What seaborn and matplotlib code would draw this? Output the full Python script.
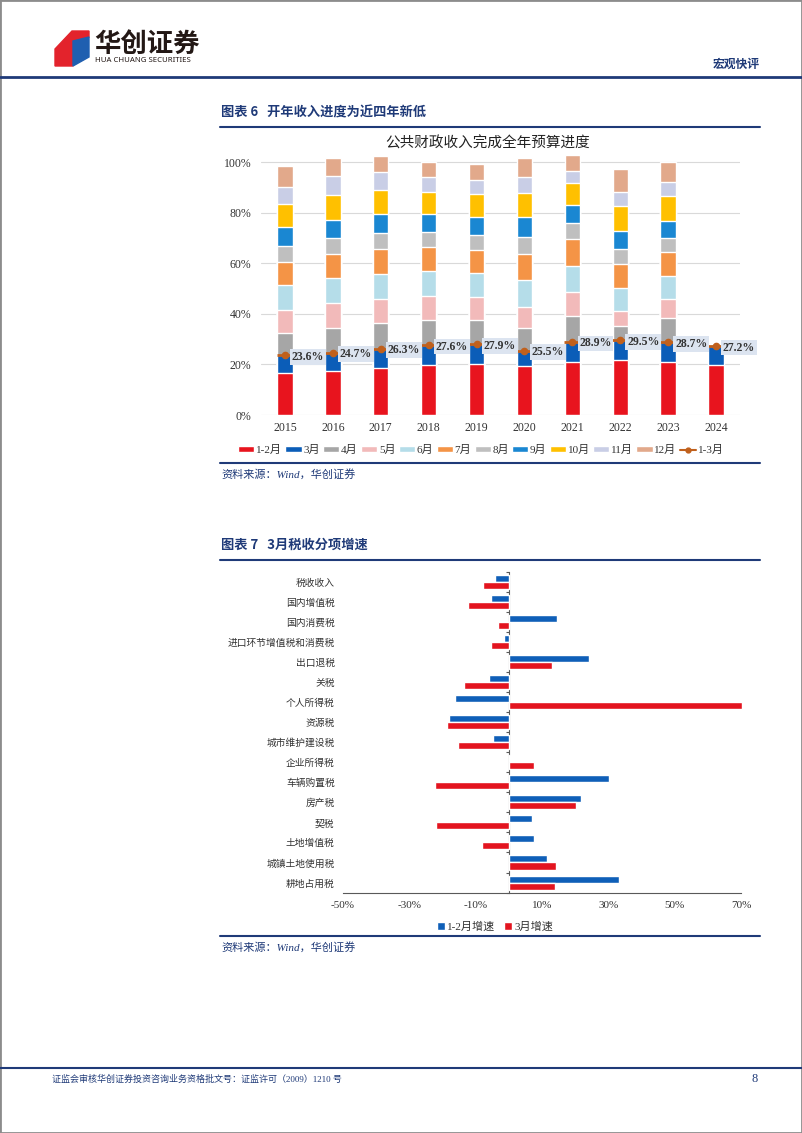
import numpy as np
import pandas as pd
import matplotlib
matplotlib.use("Agg")
import matplotlib.pyplot as plt
from matplotlib.lines import Line2D
from matplotlib.patches import Rectangle, Polygon
import seaborn as sns

# ====== Data: 图表6 公共财政收入完成全年预算进度 (%) ======
years = ["2015", "2016", "2017", "2018", "2019", "2020", "2021", "2022", "2023", "2024"]
months = ["1-2月", "3月", "4月", "5月", "6月", "7月", "8月", "9月", "10月", "11月", "12月"]
nan = np.nan
jan_feb = [16.5, 17.4, 18.7, 19.8, 20.3, 19.5, 21.1, 21.8, 21.1, 19.8]
mar = [7.1, 7.3, 7.6, 7.8, 7.6, 6.0, 7.8, 7.7, 7.6, 7.4]
apr = [8.7, 9.9, 10.0, 10.0, 9.7, 9.1, 10.4, 5.9, 9.6, nan]
may = [9.3, 9.6, 9.5, 9.6, 9.0, 8.3, 9.5, 5.8, 7.5, nan]
jun = [9.9, 10.2, 10.0, 9.8, 9.5, 10.4, 10.3, 9.0, 9.2, nan]
jul = [9.2, 9.4, 9.9, 9.4, 9.2, 10.3, 10.6, 9.5, 9.4, nan]
aug = [6.2, 6.2, 6.3, 6.1, 5.9, 6.8, 6.2, 6.0, 5.6, nan]
sep = [7.3, 7.2, 7.5, 7.1, 7.1, 7.9, 7.3, 7.3, 6.8, nan]
octo = [9.4, 9.8, 9.6, 8.7, 9.1, 9.7, 8.8, 9.8, 9.7, nan]
nov = [6.8, 7.4, 6.9, 5.8, 5.7, 6.0, 4.7, 5.6, 5.7, nan]
dec = [8.3, 7.3, 6.6, 6.2, 6.2, 7.7, 6.3, 8.9, 7.9, nan]
q1 = [23.6, 24.7, 26.3, 27.6, 27.9, 25.5, 28.9, 29.5, 28.7, 27.2]
yticks1 = [0, 20, 40, 60, 80, 100]

# ====== Data: 图表7 3月税收分项增速 (%) ======
taxes = ["税收收入", "国内增值税", "国内消费税", "进口环节增值税和消费税", "出口退税", "关税",
         "个人所得税", "资源税", "城市维护建设税", "企业所得税", "车辆购置税", "房产税",
         "契税", "土地增值税", "城镇土地使用税", "耕地占用税"]
g_janfeb = [-4.2, -5.4, 14.4, -1.4, 24.3, -6.1, -16.1, -17.9, -4.9, 0.4, 30.3, 21.9, 7.0, 7.5, 11.6, 33.1]
g_mar = [-7.7, -12.3, -3.3, -5.5, 12.9, -13.4, 70.4, -18.5, -15.4, 7.7, -22.3, 20.4, -22.1, -8.2, 14.2, 13.8]
series2 = ["1-2月增速", "3月增速"]
xticks2 = [-50, -30, -10, 10, 30, 50, 70]

# ====== Style ======
sns.set_style("white")
plt.rcParams["font.family"] = ["Liberation Serif", "Noto Sans CJK SC"]
CJK = ["Noto Sans CJK SC", "DejaVu Sans"]
NAVY = "#1F3A78"
W, H = 802, 1133

month_colors = ["#E8141E", "#0B5DB8", "#A6A6A6", "#F2BABA", "#B5DDE9", "#F49446",
                "#BFBFBF", "#1A87D2", "#FFC000", "#C9CEE6", "#E2A98B"]
line_color = "#C0601C"


def fx(x):
    return x / W


def fy(y):
    return 1 - y / H


def hline(fig, y, x0, x1, color=NAVY, lw=1.5):
    fig.add_artist(Line2D([fx(x0), fx(x1)], [fy(y), fy(y)], transform=fig.transFigure,
                          color=color, lw=lw))


fig = plt.figure(figsize=(W / 100, H / 100), dpi=100)

# ====== Page decoration ======
fig.add_artist(Rectangle((0, 0), 1, 1, transform=fig.transFigure, fill=False,
                         edgecolor="#8C8C8C", lw=2))
red_logo = [(55, 49), (72, 31), (89, 31), (89, 37), (73, 41), (73, 66), (55, 66)]
blue_logo = [(73, 41), (89, 37), (89, 57), (73, 66)]
fig.add_artist(Polygon([(fx(a), fy(b)) for a, b in red_logo], closed=True,
                       transform=fig.transFigure, color="#E3232C"))
fig.add_artist(Polygon([(fx(a), fy(b)) for a, b in blue_logo], closed=True,
                       transform=fig.transFigure, color="#1F5FB0"))
fig.text(fx(94), fy(44), "华创证券", family=CJK, fontsize=19, fontweight="bold",
         color="#231815", ha="left", va="center")
fig.text(fx(95), fy(61), "HUA CHUANG SECURITIES", family=["Noto Sans", "DejaVu Sans"],
         fontsize=5.6, fontweight="bold", color="#231815", ha="left", va="center")
fig.text(fx(760), fy(64), "宏观快评", family=CJK, fontsize=8.5, fontweight="bold",
         color=NAVY, ha="right", va="center")
hline(fig, 77, 0, W, lw=2)

fig.text(fx(221), fy(112), "图表 6   开年收入进度为近四年新低", family=CJK, fontsize=9.5,
         fontweight="bold", color=NAVY, ha="left", va="center")
hline(fig, 127, 220, 760)
hline(fig, 463, 220, 760)
fig.text(fx(221), fy(474), "资料来源：Wind，华创证券", fontsize=8, style="italic",
         color=NAVY, ha="left", va="center")

fig.text(fx(221), fy(545), "图表 7   3月税收分项增速", family=CJK, fontsize=9.5,
         fontweight="bold", color=NAVY, ha="left", va="center")
hline(fig, 560, 220, 760)
hline(fig, 936, 220, 760)
fig.text(fx(221), fy(947), "资料来源：Wind，华创证券", fontsize=8, style="italic",
         color=NAVY, ha="left", va="center")

hline(fig, 1068, 0, W, lw=1.5)
fig.text(fx(52), fy(1079), "证监会审核华创证券投资咨询业务资格批文号：证监许可（2009）1210 号",
         fontsize=6.5, color=NAVY, ha="left", va="center")
fig.text(fx(758), fy(1079), "8", fontsize=9, color=NAVY, ha="right", va="center")

# ====== Chart 1: stacked progress bars ======
ymax1 = 106
ax1 = fig.add_axes([fx(261), fy(415), (740 - 261) / W, 2.527 * ymax1 / H])
stack = np.cumsum(np.array([jan_feb, mar, apr, may, jun, jul, aug, sep, octo, nov, dec]), axis=0)
for i in range(len(months) - 1, -1, -1):
    sns.barplot(x=years, y=stack[i], order=years, color=month_colors[i], width=0.32,
                saturation=1, errorbar=None, label=months[i], ax=ax1)

xs = np.arange(len(years))
ax1.plot(xs, q1, ls="none", marker="_", ms=11, mew=2, color=line_color, zorder=4)
ax1.plot(xs, q1, ls="none", marker="o", ms=4.5, color=line_color, zorder=5)
for i, v in enumerate(q1):
    ax1.annotate(f"{v:.1f}%", (i, v), xytext=(5, -1), textcoords="offset points",
                 ha="left", va="center", fontsize=8.5, fontweight="bold", color="#333333",
                 bbox=dict(boxstyle="square,pad=0.15", fc="#DCE4F0", ec="none"), zorder=6)

ax1.set_ylim(0, ymax1)
ax1.set_xlim(-0.5, len(years) - 0.5)
ax1.set_yticks(yticks1)
ax1.set_yticklabels([f"{t}%" for t in yticks1])
ax1.yaxis.grid(True, color="#D9D9D9", lw=0.8)
ax1.set_axisbelow(True)
for s in ax1.spines.values():
    s.set_visible(False)
ax1.tick_params(axis="both", length=0, labelsize=8.5, colors="#333333")
ax1.tick_params(axis="y", pad=7)
ax1.tick_params(axis="x", pad=5)
ax1.set_xlabel("")
ax1.set_ylabel("")
ax1.set_title("")
fig.text(fx(488), fy(144), "公共财政收入完成全年预算进度", family=CJK, fontsize=10.5,
         color="#222222", ha="center", va="center")

handles, labels = ax1.get_legend_handles_labels()
handles, labels = handles[::-1], labels[::-1]
handles.append(Line2D([], [], color=line_color, lw=1.5, marker="o", ms=3.5))
labels.append("1-3月")
if ax1.get_legend() is not None:
    ax1.get_legend().remove()
fig.legend(handles, labels, loc="center", bbox_to_anchor=(fx(481), fy(450)), ncol=12,
           frameon=False, fontsize=8, handlelength=1.45, handleheight=0.45,
           handletextpad=0.15, columnspacing=0.3, labelcolor="#333333")

# ====== Chart 2: tax item growth ======
df2 = pd.DataFrame({
    "tax": taxes * 2,
    "growth": g_janfeb + g_mar,
    "series": [series2[0]] * len(taxes) + [series2[1]] * len(taxes),
})
ax2 = fig.add_axes([fx(343), fy(892.6), (741 - 343) / W, 321.1 / H])
sns.barplot(data=df2, y="tax", x="growth", hue="series", hue_order=series2, order=taxes,
            palette=["#0F5FB8", "#E3141F"], width=0.7, saturation=1, orient="h",
            errorbar=None, ax=ax2)
for p in ax2.patches:
    p.set_clip_on(False)
ax2.set_xlim(xticks2[0], xticks2[-1])
ax2.set_xticks(xticks2)
ax2.set_xticklabels([f"{t}%" for t in xticks2])
ax2.set_xlabel("")
ax2.set_ylabel("")
for s in ["left", "right", "top"]:
    ax2.spines[s].set_visible(False)
ax2.spines["bottom"].set_color("#595959")
ax2.spines["bottom"].set_linewidth(0.8)
ax2.tick_params(axis="x", length=3, width=0.8, color="#595959", labelsize=8,
                labelcolor="#333333", pad=3)
ax2.tick_params(axis="y", length=0, pad=6)
for t in ax2.get_yticklabels():
    t.set_family(CJK)
    t.set_fontsize(7)
    t.set_color("#333333")

zero_ax = ax2.secondary_yaxis((0 - xticks2[0]) / (xticks2[-1] - xticks2[0]))
zero_ax.set_yticks(np.arange(-0.5, len(taxes), 1))
zero_ax.set_yticklabels([])
zero_ax.tick_params(axis="y", length=2.5, width=0.8, color="#595959", direction="out")
zero_ax.spines["left"].set_color("#595959")
zero_ax.spines["left"].set_linewidth(0.8)

h2, l2 = ax2.get_legend_handles_labels()
if ax2.get_legend() is not None:
    ax2.get_legend().remove()
fig.legend(h2, l2, loc="center", bbox_to_anchor=(fx(495), fy(927)), ncol=2,
           frameon=False, fontsize=8, handlelength=0.7, handleheight=0.7,
           handletextpad=0.2, columnspacing=0.8, labelcolor="#333333")

fig.savefig("out.png", dpi=100)
